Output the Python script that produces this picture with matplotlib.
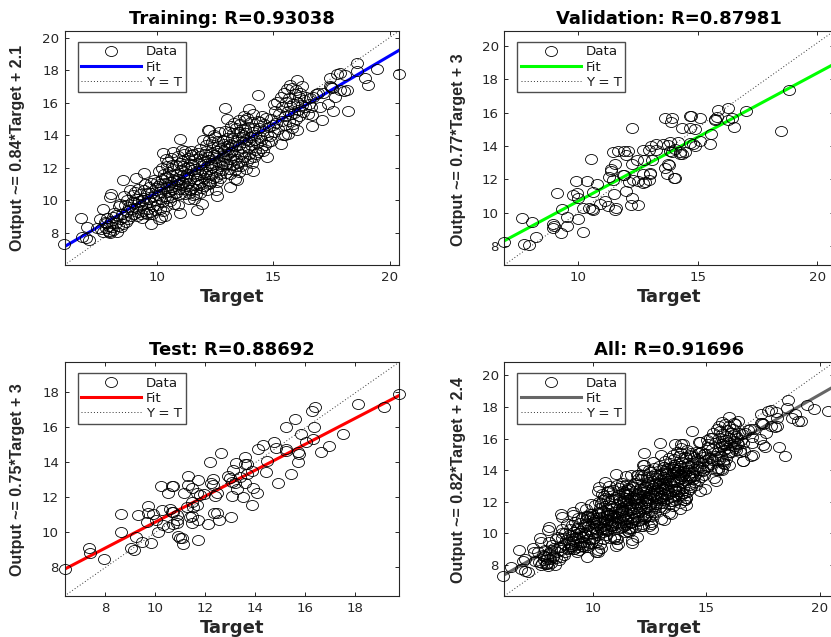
import numpy as np
import matplotlib
matplotlib.use("Agg")
import matplotlib.pyplot as plt
from matplotlib.markers import MarkerStyle
from matplotlib.transforms import Affine2D

plt.rcParams["font.family"] = ["DejaVu Sans"]

FIG_W = 831
FIG_H = 637

train_points = [
    (6.0,7.32),(6.74,8.92),(7.0,8.37),(6.97,7.65),(7.11,7.55),(6.79,7.75),(7.43,8.27),(7.57,8.84),(7.71,9.43),
    (7.83,8.57),(7.93,8.06),(8.0,7.96),(8.31,8.02),(8.0,10.2),(8.04,10.38),(8.57,11.24),(9.11,11.34),(9.46,11.65),
    (9.74,8.51),(10.2,8.94),(10.11,8.82),(10.36,9.05),(11.0,9.23),(10.93,9.7),(10.26,12.92),(10.71,12.98),
    (11.07,13.08),(11.0,13.74),(11.71,9.39),(11.93,9.76),(11.86,10.42),(12.14,10.62),(12.6,10.25),(12.54,10.62),
    (13.14,10.83),(13.43,11.24),(13.36,11.3),(14.11,11.81),(14.71,12.67),(15.33,13.49),(12.94,15.7),(13.0,14.99),
    (12.26,14.35),(12.2,14.32),(13.96,15.64),(14.36,16.5),(16.0,17.38),(15.71,17.08),(16.21,17.02),(16.64,14.56),
    (17.07,14.97),(17.57,15.48),(18.21,15.5),(18.14,16.81),(17.86,16.81),(17.64,16.36),(17.36,15.95),(17.0,15.75),
    (17.43,17.55),(17.43,17.02),(17.48,16.98),(17.71,17.75),(17.86,17.84),(18.07,17.69),(18.6,18.47),(18.57,17.94),
    (18.93,17.55),(19.04,17.1),(19.43,18.1),(20.39,17.75),(16.71,16.36),(16.0,14.31),(15.86,14.68),(15.5,14.0),
    (15.64,14.1),
    (7.62,8.21),(7.71,8.03),(7.78,8.63),(7.83,8.29),(7.88,8.92),(7.94,8.41),(7.97,8.13),(8.03,8.74),(8.07,8.37),
    (8.13,8.95),(8.12,8.16),(8.18,9.24),(8.23,8.58),(8.27,9.06),(8.34,8.43),(8.36,9.63),(8.42,8.84),(8.44,9.78),
    (8.47,8.33),(8.52,9.14),(8.56,8.52),(8.58,8.96),(8.63,9.72),(8.61,10.28),(8.69,8.64),(8.72,9.31),(8.74,10.02),
    (8.77,8.83),(8.81,9.58),(8.83,10.61),(8.88,9.03),(8.92,9.87),(8.93,9.44),(8.97,10.29),
    (9.02,9.18),(9.04,9.83),(9.07,10.53),(9.12,9.49),(9.14,10.08),(9.18,10.72),(9.21,9.28),(9.23,9.94),(9.27,10.37),
    (9.31,9.12),(9.33,9.68),(9.38,10.03),(9.41,9.36),(9.43,10.64),(9.47,10.16),(9.52,9.23),(9.54,9.84),(9.49,10.97),
    (9.58,10.42),(9.61,9.47),(9.63,10.05),(9.66,10.83),(9.72,9.26),(9.69,9.92),(9.74,11.04),(9.77,10.46),(9.82,9.63),
    (9.84,10.18),(9.86,11.23),(9.91,9.38),(9.93,10.02),(9.97,10.74),(9.15,9.02),(9.36,8.93),(9.79,9.12),(9.57,9.14),
    (10.02,9.72),(10.04,10.34),(10.01,11.13),(10.07,10.87),(10.12,9.46),(10.14,10.52),(10.09,11.78),(10.17,10.07),
    (10.21,11.28),(10.23,9.88),(10.26,10.73),(10.31,11.62),(10.33,10.26),(10.36,11.03),(10.42,12.13),(10.41,9.67),
    (10.47,10.48),(10.44,11.42),(10.52,10.93),(10.49,12.38),(10.56,10.57),(10.53,11.73),(10.62,11.14),(10.59,10.18),
    (10.66,11.47),(10.63,12.62),(10.71,10.68),(10.68,11.93),(10.77,10.47),(10.73,11.24),(10.82,12.17),(10.79,10.86),
    (10.86,11.64),(10.84,10.46),(10.92,11.02),(10.89,12.73),(10.96,11.33),(10.94,10.67),(10.28,9.34),(10.39,12.52),
    (10.58,9.93),(10.74,9.74),(10.24,11.96),(10.43,10.11),(10.67,12.18),(10.87,11.18),(10.98,12.28),(10.61,10.84),
    (10.13,10.97),(10.35,11.38),
    (11.03,11.87),(11.01,10.38),(11.06,11.12),(11.08,12.43),(11.11,10.72),(11.13,11.53),(11.16,12.87),(11.14,11.04),
    (11.22,10.36),(11.19,11.97),(11.27,11.34),(11.24,10.88),(11.32,12.58),(11.29,11.63),(11.37,10.47),(11.33,11.08),
    (11.41,12.23),(11.39,10.06),(11.46,11.83),(11.44,11.27),(11.51,10.78),(11.48,12.76),(11.56,10.32),(11.53,12.14),
    (11.62,11.48),(11.58,10.08),(11.67,11.03),(11.64,12.52),(11.72,11.82),(11.69,10.36),(11.77,12.92),(11.74,11.28),
    (11.82,12.24),(11.79,10.93),(11.87,11.62),(11.84,13.18),(11.92,12.47),(11.89,11.13),(11.97,13.72),(11.94,11.88),
    (11.12,12.12),(11.23,13.02),(11.34,12.04),(11.43,10.62),(11.57,12.83),(11.66,10.68),(11.76,11.56),(11.86,12.71),
    (11.96,10.76),(11.21,11.42),(11.47,13.05),(11.61,11.94),
    (12.02,12.33),(12.01,11.37),(12.06,12.82),(12.04,10.88),(12.11,13.42),(12.09,11.73),(12.16,12.08),(12.13,13.03),
    (12.22,11.17),(12.19,12.64),(12.27,11.92),(12.24,13.68),(12.31,12.27),(12.29,11.04),(12.36,12.93),(12.33,11.58),
    (12.41,13.27),(12.38,12.02),(12.46,14.03),(12.43,11.34),(12.52,12.57),(12.48,12.24),(12.57,13.04),(12.53,11.78),
    (12.61,13.63),(12.59,11.12),(12.66,12.37),(12.63,12.88),(12.72,11.64),(12.68,14.17),(12.77,12.13),(12.74,13.22),
    (12.82,12.73),(12.79,11.87),(12.87,13.48),(12.84,12.27),(12.91,14.28),(12.89,13.03),(12.97,11.68),(12.94,12.63),
    (12.07,11.62),(12.18,12.46),(12.26,10.98),(12.37,13.58),(12.44,12.76),(12.55,11.43),(12.64,13.34),(12.73,11.38),
    (12.83,13.72),(12.92,12.24),(12.99,13.36),(12.34,12.14),(12.51,13.87),(12.76,12.53),
    (13.02,13.82),(13.03,12.23),(13.07,13.17),(13.06,12.84),(13.11,14.18),(13.09,11.93),(13.16,13.47),(13.13,12.52),
    (13.21,13.04),(13.19,14.58),(13.26,12.17),(13.23,13.83),(13.31,12.77),(13.28,14.13),(13.36,13.33),(13.34,11.88),
    (13.41,14.47),(13.38,12.53),(13.46,13.73),(13.44,13.02),(13.51,14.96),(13.48,12.28),(13.56,14.23),(13.53,13.38),
    (13.61,12.82),(13.58,14.68),(13.66,13.87),(13.63,12.13),(13.72,15.18),(13.68,13.24),(13.77,14.37),(13.73,12.68),
    (13.82,13.73),(13.78,14.93),(13.86,12.43),(13.83,14.13),(13.91,13.28),(13.88,15.07),(13.97,12.87),(13.93,14.53),
    (13.14,11.62),(13.24,13.42),(13.33,14.78),(13.43,12.08),(13.54,11.73),(13.64,12.44),(13.74,13.58),(13.84,11.92),
    (13.94,13.64),(13.18,12.96),(13.47,14.23),(13.71,14.02),
    (14.02,13.92),(14.01,12.58),(14.06,14.83),(14.04,13.37),(14.12,14.18),(14.08,12.27),(14.17,13.72),(14.13,15.28),
    (14.22,13.07),(14.18,14.47),(14.27,12.83),(14.23,14.04),(14.32,14.87),(14.28,13.52),(14.42,13.88),(14.38,14.43),
    (14.47,13.24),(14.52,15.17),(14.49,13.68),(14.57,14.24),(14.62,13.38),(14.58,14.72),(14.72,14.03),(14.67,15.07),
    (14.77,13.58),(14.82,14.48),(14.87,13.97),(14.92,15.03),(14.88,13.67),(14.97,14.62),(14.34,12.94),(14.16,12.64),
    (14.56,13.06),(14.44,14.82),
    (15.02,15.93),(15.04,14.23),(15.07,15.47),(15.12,14.78),(15.14,16.03),(15.21,14.37),(15.26,15.32),(15.31,16.33),
    (15.36,14.88),(15.38,15.72),(15.42,14.03),(15.46,16.58),(15.52,15.17),(15.49,14.63),(15.56,16.02),(15.61,15.47),
    (15.58,16.82),(15.66,14.87),(15.72,15.83),(15.68,16.27),(15.76,15.28),(15.82,16.93),(15.78,14.42),(15.86,15.92),
    (15.91,16.53),(15.89,15.38),(15.96,15.02),(16.02,16.03),(15.99,16.78),(16.06,15.58),(16.11,16.33),(16.09,15.17),
    (16.16,16.62),(16.22,15.87),(16.27,15.42),(16.31,16.18),(16.36,15.73),(16.42,16.38),(16.47,15.28),(16.52,15.93),
    (16.56,16.27),(16.61,15.72),(16.67,15.24),(16.82,16.52),(16.93,16.63),(17.12,16.58),(17.52,16.93),(18.03,16.72),
]

val_points = [
    (6.89,8.24),(7.66,9.69),(8.05,9.45),(7.74,8.1),(7.95,8.04),(8.23,8.52),(8.96,9.31),(8.93,9.06),(9.0,9.2),
    (9.3,8.8),(9.54,9.2),(9.51,9.75),(9.32,10.25),(9.12,11.17),(9.79,11.09),(9.96,11.21),(10.0,10.91),(9.9,11.88),
    (10.35,11.92),(10.77,11.73),(10.63,11.27),(10.0,9.65),(10.21,8.82),(10.18,10.31),(10.45,10.29),(10.63,10.19),
    (10.58,10.25),(10.91,10.55),(11.11,10.69),(11.25,10.39),(11.53,10.15),(11.57,10.31),(11.5,11.11),(11.98,11.33),
    (12.23,10.91),(12.2,10.49),(12.48,10.45),(10.52,13.24),(11.46,13.64),(11.67,13.7),(11.92,13.7),(12.09,13.7),
    (11.98,13.44),(12.26,15.09),(11.53,12.9),(11.39,12.64),(11.39,12.5),(11.3,12.14),(11.46,11.94),(11.88,12.24),
    (11.92,12.24),(12.13,11.84),(12.23,12.94),(12.44,13.14),(12.3,11.94),(12.5,11.88),(12.72,11.75),(12.79,11.84),
    (12.97,11.94),(12.72,12.34),(12.99,12.38),(13.02,12.34),(12.72,13.74),(12.76,13.14),(13.09,13.14),(13.06,14.0),
    (12.97,13.74),(13.27,13.74),(13.27,14.1),(13.55,14.1),(13.76,14.04),(13.83,14.24),(13.83,13.7),(13.9,13.64),
    (14.04,13.8),(14.18,14.24),(13.62,15.67),(13.9,15.67),(13.87,15.43),(14.32,15.09),(14.67,15.77),(14.71,15.77),
    (15.08,15.67),(14.67,15.09),(14.9,15.03),(14.25,13.5),(14.32,13.54),(14.46,13.64),(14.25,13.64),(14.67,14.18),
    (14.8,14.14),(14.87,14.0),(15.08,14.29),(15.5,14.14),(15.57,14.73),(15.71,15.63),(15.78,15.73),(15.71,15.53),
    (15.85,16.17),(16.24,16.29),(16.41,15.69),(16.27,15.53),(16.5,15.13),(17.03,16.09),(18.47,14.87),(18.8,17.32),
    (13.62,12.68),(13.73,12.34),(13.79,12.84),(13.76,12.9),(14.01,12.1),(14.04,12.1),
]

test_points = [
    (6.36,7.89),(7.35,9.09),(7.39,8.8),(7.95,8.5),(8.63,11.03),(8.63,10.04),(9.23,9.75),(9.01,9.09),(9.16,8.99),
    (9.45,9.47),(9.81,9.37),(9.32,10.99),(9.65,10.61),(9.69,11.52),(9.72,11.12),(9.92,11.03),(10.03,10.7),(10.12,10.04),
    (10.32,10.42),(10.49,10.32),(10.25,11.28),(10.21,12.67),(10.52,12.23),(10.65,12.67),(10.72,12.67),(10.59,11.31),
    (10.65,11.18),(10.72,11.18),(10.85,10.99),(10.85,10.7),(10.85,10.51),(10.72,10.48),(10.92,9.79),(10.99,9.66),
    (11.05,9.66),(11.09,9.33),(11.72,9.56),(11.72,10.7),(12.12,10.48),(11.45,10.51),(11.39,10.9),(11.45,10.95),
    (11.68,11.56),(11.52,11.47),(11.25,11.47),(11.45,11.75),(11.16,12.23),(11.32,12.7),(11.29,13.22),(11.48,12.51),
    (11.65,12.23),(11.72,12.99),(11.79,12.13),(11.96,12.19),(12.19,14.0),(12.63,14.51),(12.32,13.03),(12.21,12.8),
    (12.32,12.7),(12.45,12.23),(12.39,12.1),(12.35,11.12),(12.45,11.12),(12.56,10.7),(13.01,10.9),(12.92,13.22),
    (12.99,13.09),(13.05,12.9),(13.12,13.56),(13.21,13.98),(13.08,12.1),(13.28,12.46),(13.19,12.8),(13.49,12.04),
    (13.59,14.32),(13.59,13.9),(13.65,13.9),(13.59,12.8),(13.65,13.33),(13.85,13.52),(13.92,12.55),(13.85,11.56),
    (14.08,12.23),(14.12,14.76),(14.29,14.99),(14.45,14.08),(14.43,13.43),(14.75,15.18),(14.83,14.84),(15.21,14.76),
    (15.23,14.67),(14.92,12.8),(15.43,13.31),(15.23,16.04),(15.59,16.46),(15.81,15.6),(15.72,14.61),(15.75,14.46),
    (15.69,14.0),(16.01,15.14),(16.29,15.31),(16.35,16.04),(16.25,16.93),(16.39,17.14),(16.63,14.61),(16.96,14.93),
    (17.52,15.62),(18.12,17.33),(19.16,17.14),(19.75,17.9),(13.39,13.18),
]

train_fit_x = [6.04, 20.39]
train_fit_y = [7.14, 19.23]
val_fit_x = [6.91, 20.69]
val_fit_y = [8.32, 18.9]
test_fit_x = [6.36, 19.75]
test_fit_y = [7.89, 17.81]
all_fit_x = [6.07, 20.64]
all_fit_y = [7.38, 19.3]

tick_5_to_20 = [10, 15, 20]
tick_y_8_to_20 = [8, 10, 12, 14, 16, 18, 20]
test_ticks = [8, 10, 12, 14, 16, 18]


def draw_panel(box, xlim, ylim, points, fit_x, fit_y, color, title, ylabel, xticks, yticks, label_x, label_y):
    left, top, right, bottom = box
    fig = plt.gcf()
    ax = fig.add_axes([left / FIG_W, 1 - bottom / FIG_H, (right - left) / FIG_W, (bottom - top) / FIG_H])
    pts = np.array(points)

    # the source image is stretched sideways, so the circles are too
    wide_circle = MarkerStyle("o", transform=Affine2D().scale(1.2, 1.0))
    ax.plot(pts[:, 0], pts[:, 1], ls="none", marker=wide_circle, ms=7.2, mfc="none", mec="black", mew=0.6,
            clip_on=False, zorder=3, label="Data")
    ax.plot(fit_x, fit_y, color=color, lw=2.2, zorder=2, label="Fit")
    ax.plot(xlim, ylim, color="0.2", lw=0.7, ls=(0, (1, 2.2)), zorder=2, label="Y = T")

    ax.set_xlim(xlim)
    ax.set_ylim(ylim)
    ax.set_xticks(xticks)
    ax.set_yticks(yticks)
    ax.tick_params(direction="in", top=True, right=True, length=3, width=0.7, labelsize=9.6,
                   colors="0.15", pad=4)
    for spine in ax.spines.values():
        spine.set_linewidth(0.8)
        spine.set_color("0.15")

    # legend is placed by hand, same offset from the axes corner in all panels
    ax.legend(loc="upper left", bbox_to_anchor=(13 / (right - left), 1 - 11 / (bottom - top)), borderaxespad=0,
              fontsize=9.6, numpoints=1, handlelength=4.5, handletextpad=0.4, borderpad=0.25, labelspacing=0.17,
              fancybox=False, framealpha=1, edgecolor="0.3", labelcolor="0.1")

    center = (left + right) / 2 / FIG_W
    fig.text(center, 1 - (top - 12) / FIG_H, title, ha="center", va="center", fontsize=13, fontweight="bold")
    fig.text(center, 1 - (bottom + 32) / FIG_H, "Target", ha="center", va="center", fontsize=13,
             fontweight="bold", color="0.15")
    fig.text(label_x / FIG_W, 1 - label_y / FIG_H, ylabel, rotation=90, ha="center", va="center", fontsize=11.5,
             fontweight="bold", color="0.15", family="Liberation Sans")
    return ax


def main():
    plt.figure(figsize=(FIG_W / 100, FIG_H / 100), dpi=100)

    draw_panel((64.5, 31, 399, 265), [6.04, 20.39], [6.01, 20.42], train_points, train_fit_x, train_fit_y,
               (0, 0, 1), "Training: R=0.93038", "Output ~= 0.84*Target + 2.1", tick_5_to_20, tick_y_8_to_20, 18, 148)
    draw_panel((504.3, 31, 834, 265), [6.91, 20.69], [6.87, 20.88], val_points, val_fit_x, val_fit_y,
               (0, 1, 0), "Validation: R=0.87981", "Output ~= 0.77*Target + 3", tick_5_to_20, tick_y_8_to_20, 458, 150)
    draw_panel((64.5, 362.3, 399, 596), [6.36, 19.75], [6.36, 19.71], test_points, test_fit_x, test_fit_y,
               (1, 0, 0), "Test: R=0.88692", "Output ~= 0.75*Target + 3", test_ticks, test_ticks, 18, 480)
    all_points = train_points + val_points + test_points
    draw_panel((504.3, 362.3, 834, 596), [6.07, 20.64], [6.04, 20.83], all_points, all_fit_x, all_fit_y,
               (0.4, 0.4, 0.4), "All: R=0.91696", "Output ~= 0.82*Target + 2.4", tick_5_to_20, tick_y_8_to_20, 458, 480)

    plt.savefig("out.png", dpi=100)


if __name__ == "__main__":
    main()
